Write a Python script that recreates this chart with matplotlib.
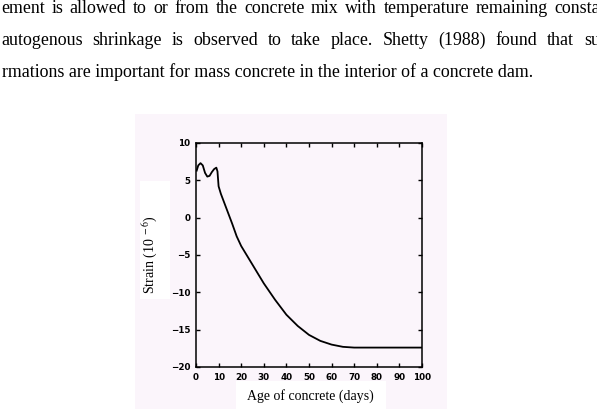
import matplotlib
matplotlib.use("Agg")
import matplotlib.pyplot as plt
from matplotlib.patches import Rectangle

plt.rcParams['mathtext.fontset'] = 'stix'

# Text of the page above the figure (cut at the page edges)
page_lines = [
    "ement is allowed to or from the concrete mix with temperature remaining consta",
    "autogenous shrinkage is observed to take place. Shetty (1988) found that su",
    "rmations are important for mass concrete in the interior of a concrete dam.",
]
justified = [True, True, False]

# Autogenous strain vs age
age = [0.3, 1, 2, 3, 4, 5, 6, 7, 8, 9, 9.5, 10, 11, 12, 14, 16, 18, 20,
       25, 30, 35, 40, 45, 50, 55, 60, 65, 70, 80, 90, 100]
strain = [6.3, 7.0, 7.3, 7.0, 6.0, 5.5, 5.6, 6.1, 6.5, 6.7, 6.2, 4.2, 3.2, 2.4,
          0.8, -0.8, -2.5, -3.8, -6.3, -8.8, -11.0, -13.0, -14.5, -15.7, -16.5,
          -17.0, -17.3, -17.4, -17.4, -17.4, -17.4]
x_ticks = list(range(0, 101, 10))
y_ticks = [-20, -15, -10, -5, 0, 5, 10]

W, H = 597, 409
fig = plt.figure(figsize=(W / 100, H / 100), dpi=100)
fig.patch.set_facecolor('white')

# pale tinted scan behind the chart
fig.add_artist(Rectangle((135 / W, 0), 312 / W, 295 / H, transform=fig.transFigure,
                         facecolor='#fbf5fb', edgecolor='none', zorder=0))
fig.add_artist(Rectangle((140 / W, 110 / H), 30 / W, 118 / H, transform=fig.transFigure,
                         facecolor='white', edgecolor='none', zorder=0))
fig.add_artist(Rectangle((236 / W, 0), 150 / W, 28 / H, transform=fig.transFigure,
                         facecolor='white', edgecolor='none', zorder=0))

# page text, justified like the document
renderer = fig.canvas.get_renderer()
fs = 12.85
baselines = [13, 45, 77]
for line, just, yb in zip(page_lines, justified, baselines):
    y = 1 - yb / H
    words = line.split(' ')
    if not just:
        fig.text(2 / W, y, line, fontsize=fs, family='Liberation Serif', va='baseline')
        continue
    texts = [fig.text(0, y, w, fontsize=fs, family='Liberation Serif', va='baseline')
             for w in words]
    widths = [t.get_window_extent(renderer).width for t in texts]
    x0, x1 = 1, 600
    gap = (x1 - x0 - sum(widths)) / (len(words) - 1)
    x = x0
    for t, w in zip(texts, widths):
        t.set_x(x / W)
        x += w + gap

# the chart
ax = fig.add_axes([196 / W, 1 - 367 / H, 226 / W, 224 / H])
ax.set_facecolor('none')
ax.plot(age, strain, color='black', linewidth=1.3)
ax.set_xlim(0, 100)
ax.set_ylim(-20, 10)
ax.set_xticks(x_ticks)
ax.set_yticks(y_ticks)
ax.set_xticklabels([str(v) for v in x_ticks], fontsize=6.3, fontweight='bold')
ax.set_yticklabels([str(v).replace('-', '\u2212') for v in y_ticks], fontsize=6.3,
                   fontweight='bold')
ax.tick_params(direction='in', length=3, width=1, top=True, right=True, pad=4)
for s in ax.spines.values():
    s.set_linewidth(1.1)

fig.text(150 / W, 1 - 255 / H, r"Strain (10$^{\ -6}$)", rotation=90, fontsize=10,
         family='Liberation Serif', ha='center', va='center')
fig.text(310 / W, 1 - 396 / H, "Age of concrete (days)", fontsize=10,
         family='Liberation Serif', ha='center', va='center')

fig.savefig('out.png', dpi=100)
